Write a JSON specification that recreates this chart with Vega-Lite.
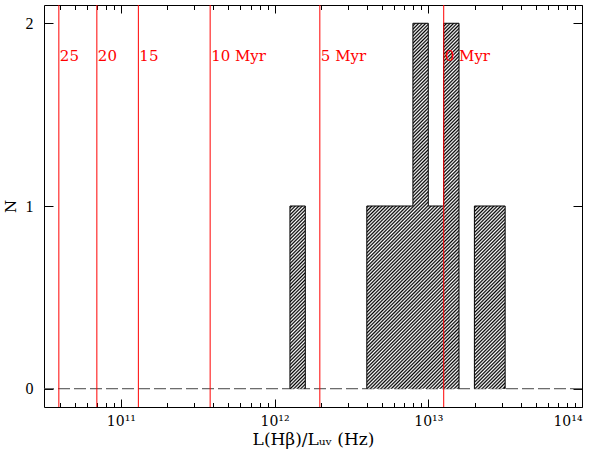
{
  "$schema": "https://vega.github.io/schema/vega-lite/v6.json",
  "width": 538,
  "height": 402,
  "autosize": "none",
  "padding": {"left": 44, "top": 5, "right": 18, "bottom": 45},
  "background": "white",
  "config": {
    "view": {"stroke": "black", "strokeWidth": 1},
    "axis": {"grid": false, "domain": false, "tickColor": "black", "tickWidth": 1, "labelColor": "black", "labelFont": "DejaVu Serif", "labelFontSize": 14, "titleFont": "DejaVu Serif", "titleFontSize": 17, "titleFontWeight": "normal", "titleColor": "black"}
  },
  "datasets": {
    "area": [
      {"x": 1.2589e12, "n": 1},
      {"x": 1.5849e12, "n": 0},
      {"x": 3.9811e12, "n": 1},
      {"x": 7.9433e12, "n": 2},
      {"x": 1e13, "n": 1},
      {"x": 1.2589e13, "n": 2},
      {"x": 1.5849e13, "n": 0},
      {"x": 1.9953e13, "n": 1},
      {"x": 3.1623e13, "n": 0}
    ],
    "outline": [
      {"x": 1.2589e12, "n": 0, "blk": "A", "i": 0},
      {"x": 1.2589e12, "n": 1, "blk": "A", "i": 1},
      {"x": 1.5849e12, "n": 0, "blk": "A", "i": 2},
      {"x": 3.9811e12, "n": 0, "blk": "B", "i": 0},
      {"x": 3.9811e12, "n": 1, "blk": "B", "i": 1},
      {"x": 7.9433e12, "n": 2, "blk": "B", "i": 2},
      {"x": 1e13, "n": 1, "blk": "B", "i": 3},
      {"x": 1.2589e13, "n": 2, "blk": "B", "i": 4},
      {"x": 1.5849e13, "n": 0, "blk": "B", "i": 5},
      {"x": 1.9953e13, "n": 0, "blk": "C", "i": 0},
      {"x": 1.9953e13, "n": 1, "blk": "C", "i": 1},
      {"x": 3.1623e13, "n": 0, "blk": "C", "i": 2}
    ],
    "ages": [
      {"age": "25", "x": 3.95e10},
      {"age": "20", "x": 6.98e10},
      {"age": "15", "x": 1.30e11},
      {"age": "10 Myr", "x": 3.81e11},
      {"age": "5 Myr", "x": 1.97e12},
      {"age": "0 Myr", "x": 1.26e13}
    ]
  },
  "resolve": {"axis": {"x": "independent", "y": "independent"}},
  "layer": [
    {
      "data": {"values": [{}]},
      "mark": {"type": "rule", "strokeDash": [12, 4], "color": "#444444", "strokeWidth": 1},
      "encoding": {
        "y": {"datum": 0, "scale": {"domain": [-0.1, 2.1], "nice": false, "zero": false}, "axis": null}
      }
    },
    {
      "data": {"name": "area"},
      "mark": {
        "type": "area",
        "interpolate": "step-after",
        "fill": {
          "gradient": "linear", "x1": 0, "y1": 0, "x2": 0.6947, "y2": 1.17975,
          "stops": [
            {"offset": 0, "color": "#000"}, {"offset": 0.003, "color": "#fff"},
            {"offset": 0.006, "color": "#000"}, {"offset": 0.009, "color": "#fff"},
            {"offset": 0.012, "color": "#000"}, {"offset": 0.015, "color": "#fff"},
            {"offset": 0.018, "color": "#000"}, {"offset": 0.021, "color": "#fff"},
            {"offset": 0.024, "color": "#000"}, {"offset": 0.027, "color": "#fff"},
            {"offset": 0.03, "color": "#000"}, {"offset": 0.033, "color": "#fff"},
            {"offset": 0.036, "color": "#000"}, {"offset": 0.039, "color": "#fff"},
            {"offset": 0.042, "color": "#000"}, {"offset": 0.045, "color": "#fff"},
            {"offset": 0.048, "color": "#000"}, {"offset": 0.051, "color": "#fff"},
            {"offset": 0.054, "color": "#000"}, {"offset": 0.057, "color": "#fff"},
            {"offset": 0.06, "color": "#000"}, {"offset": 0.063, "color": "#fff"},
            {"offset": 0.066, "color": "#000"}, {"offset": 0.069, "color": "#fff"},
            {"offset": 0.072, "color": "#000"}, {"offset": 0.075, "color": "#fff"},
            {"offset": 0.078, "color": "#000"}, {"offset": 0.081, "color": "#fff"},
            {"offset": 0.084, "color": "#000"}, {"offset": 0.087, "color": "#fff"},
            {"offset": 0.09, "color": "#000"}, {"offset": 0.093, "color": "#fff"},
            {"offset": 0.096, "color": "#000"}, {"offset": 0.099, "color": "#fff"},
            {"offset": 0.102, "color": "#000"}, {"offset": 0.105, "color": "#fff"},
            {"offset": 0.108, "color": "#000"}, {"offset": 0.111, "color": "#fff"},
            {"offset": 0.114, "color": "#000"}, {"offset": 0.117, "color": "#fff"},
            {"offset": 0.12, "color": "#000"}, {"offset": 0.123, "color": "#fff"},
            {"offset": 0.126, "color": "#000"}, {"offset": 0.129, "color": "#fff"},
            {"offset": 0.132, "color": "#000"}, {"offset": 0.135, "color": "#fff"},
            {"offset": 0.138, "color": "#000"}, {"offset": 0.141, "color": "#fff"},
            {"offset": 0.144, "color": "#000"}, {"offset": 0.147, "color": "#fff"},
            {"offset": 0.15, "color": "#000"}, {"offset": 0.153, "color": "#fff"},
            {"offset": 0.156, "color": "#000"}, {"offset": 0.159, "color": "#fff"},
            {"offset": 0.162, "color": "#000"}, {"offset": 0.165, "color": "#fff"},
            {"offset": 0.168, "color": "#000"}, {"offset": 0.171, "color": "#fff"},
            {"offset": 0.174, "color": "#000"}, {"offset": 0.177, "color": "#fff"},
            {"offset": 0.18, "color": "#000"}, {"offset": 0.183, "color": "#fff"},
            {"offset": 0.186, "color": "#000"}, {"offset": 0.189, "color": "#fff"},
            {"offset": 0.192, "color": "#000"}, {"offset": 0.195, "color": "#fff"},
            {"offset": 0.198, "color": "#000"}, {"offset": 0.201, "color": "#fff"},
            {"offset": 0.204, "color": "#000"}, {"offset": 0.207, "color": "#fff"},
            {"offset": 0.21, "color": "#000"}, {"offset": 0.213, "color": "#fff"},
            {"offset": 0.216, "color": "#000"}, {"offset": 0.219, "color": "#fff"},
            {"offset": 0.222, "color": "#000"}, {"offset": 0.225, "color": "#fff"},
            {"offset": 0.228, "color": "#000"}, {"offset": 0.231, "color": "#fff"},
            {"offset": 0.234, "color": "#000"}, {"offset": 0.237, "color": "#fff"},
            {"offset": 0.24, "color": "#000"}, {"offset": 0.243, "color": "#fff"},
            {"offset": 0.246, "color": "#000"}, {"offset": 0.249, "color": "#fff"},
            {"offset": 0.252, "color": "#000"}, {"offset": 0.255, "color": "#fff"},
            {"offset": 0.258, "color": "#000"}, {"offset": 0.261, "color": "#fff"},
            {"offset": 0.264, "color": "#000"}, {"offset": 0.267, "color": "#fff"},
            {"offset": 0.27, "color": "#000"}, {"offset": 0.273, "color": "#fff"},
            {"offset": 0.276, "color": "#000"}, {"offset": 0.279, "color": "#fff"},
            {"offset": 0.282, "color": "#000"}, {"offset": 0.285, "color": "#fff"},
            {"offset": 0.288, "color": "#000"}, {"offset": 0.291, "color": "#fff"},
            {"offset": 0.294, "color": "#000"}, {"offset": 0.297, "color": "#fff"},
            {"offset": 0.3, "color": "#000"}, {"offset": 0.303, "color": "#fff"},
            {"offset": 0.306, "color": "#000"}, {"offset": 0.309, "color": "#fff"},
            {"offset": 0.312, "color": "#000"}, {"offset": 0.315, "color": "#fff"},
            {"offset": 0.318, "color": "#000"}, {"offset": 0.321, "color": "#fff"},
            {"offset": 0.324, "color": "#000"}, {"offset": 0.327, "color": "#fff"},
            {"offset": 0.33, "color": "#000"}, {"offset": 0.333, "color": "#fff"},
            {"offset": 0.336, "color": "#000"}, {"offset": 0.339, "color": "#fff"},
            {"offset": 0.342, "color": "#000"}, {"offset": 0.345, "color": "#fff"},
            {"offset": 0.348, "color": "#000"}, {"offset": 0.351, "color": "#fff"},
            {"offset": 0.354, "color": "#000"}, {"offset": 0.357, "color": "#fff"},
            {"offset": 0.36, "color": "#000"}, {"offset": 0.363, "color": "#fff"},
            {"offset": 0.366, "color": "#000"}, {"offset": 0.369, "color": "#fff"},
            {"offset": 0.372, "color": "#000"}, {"offset": 0.375, "color": "#fff"},
            {"offset": 0.378, "color": "#000"}, {"offset": 0.381, "color": "#fff"},
            {"offset": 0.384, "color": "#000"}, {"offset": 0.387, "color": "#fff"},
            {"offset": 0.39, "color": "#000"}, {"offset": 0.393, "color": "#fff"},
            {"offset": 0.396, "color": "#000"}, {"offset": 0.399, "color": "#fff"},
            {"offset": 0.402, "color": "#000"}, {"offset": 0.405, "color": "#fff"},
            {"offset": 0.408, "color": "#000"}, {"offset": 0.411, "color": "#fff"},
            {"offset": 0.414, "color": "#000"}, {"offset": 0.417, "color": "#fff"},
            {"offset": 0.42, "color": "#000"}, {"offset": 0.423, "color": "#fff"},
            {"offset": 0.426, "color": "#000"}, {"offset": 0.429, "color": "#fff"},
            {"offset": 0.432, "color": "#000"}, {"offset": 0.435, "color": "#fff"},
            {"offset": 0.438, "color": "#000"}, {"offset": 0.441, "color": "#fff"},
            {"offset": 0.444, "color": "#000"}, {"offset": 0.447, "color": "#fff"},
            {"offset": 0.45, "color": "#000"}, {"offset": 0.453, "color": "#fff"},
            {"offset": 0.456, "color": "#000"}, {"offset": 0.459, "color": "#fff"},
            {"offset": 0.462, "color": "#000"}, {"offset": 0.465, "color": "#fff"},
            {"offset": 0.468, "color": "#000"}, {"offset": 0.471, "color": "#fff"},
            {"offset": 0.474, "color": "#000"}, {"offset": 0.477, "color": "#fff"},
            {"offset": 0.48, "color": "#000"}, {"offset": 0.483, "color": "#fff"},
            {"offset": 0.486, "color": "#000"}, {"offset": 0.489, "color": "#fff"},
            {"offset": 0.492, "color": "#000"}, {"offset": 0.495, "color": "#fff"},
            {"offset": 0.498, "color": "#000"}, {"offset": 0.501, "color": "#fff"},
            {"offset": 0.504, "color": "#000"}, {"offset": 0.507, "color": "#fff"},
            {"offset": 0.51, "color": "#000"}, {"offset": 0.513, "color": "#fff"},
            {"offset": 0.516, "color": "#000"}, {"offset": 0.519, "color": "#fff"},
            {"offset": 0.522, "color": "#000"}, {"offset": 0.525, "color": "#fff"},
            {"offset": 0.528, "color": "#000"}, {"offset": 0.531, "color": "#fff"},
            {"offset": 0.534, "color": "#000"}, {"offset": 0.537, "color": "#fff"},
            {"offset": 0.54, "color": "#000"}, {"offset": 0.543, "color": "#fff"},
            {"offset": 0.546, "color": "#000"}, {"offset": 0.549, "color": "#fff"},
            {"offset": 0.552, "color": "#000"}, {"offset": 0.555, "color": "#fff"},
            {"offset": 0.558, "color": "#000"}, {"offset": 0.561, "color": "#fff"},
            {"offset": 0.564, "color": "#000"}, {"offset": 0.567, "color": "#fff"},
            {"offset": 0.57, "color": "#000"}, {"offset": 0.573, "color": "#fff"},
            {"offset": 0.576, "color": "#000"}, {"offset": 0.579, "color": "#fff"},
            {"offset": 0.582, "color": "#000"}, {"offset": 0.585, "color": "#fff"},
            {"offset": 0.588, "color": "#000"}, {"offset": 0.591, "color": "#fff"},
            {"offset": 0.594, "color": "#000"}, {"offset": 0.597, "color": "#fff"},
            {"offset": 0.6, "color": "#000"}, {"offset": 0.603, "color": "#fff"},
            {"offset": 0.606, "color": "#000"}, {"offset": 0.609, "color": "#fff"},
            {"offset": 0.612, "color": "#000"}, {"offset": 0.615, "color": "#fff"},
            {"offset": 0.618, "color": "#000"}, {"offset": 0.621, "color": "#fff"},
            {"offset": 0.624, "color": "#000"}, {"offset": 0.627, "color": "#fff"},
            {"offset": 0.63, "color": "#000"}, {"offset": 0.633, "color": "#fff"},
            {"offset": 0.636, "color": "#000"}, {"offset": 0.639, "color": "#fff"},
            {"offset": 0.642, "color": "#000"}, {"offset": 0.645, "color": "#fff"},
            {"offset": 0.648, "color": "#000"}, {"offset": 0.651, "color": "#fff"},
            {"offset": 0.654, "color": "#000"}, {"offset": 0.657, "color": "#fff"},
            {"offset": 0.66, "color": "#000"}, {"offset": 0.663, "color": "#fff"},
            {"offset": 0.666, "color": "#000"}, {"offset": 0.669, "color": "#fff"},
            {"offset": 0.672, "color": "#000"}, {"offset": 0.675, "color": "#fff"},
            {"offset": 0.678, "color": "#000"}, {"offset": 0.681, "color": "#fff"},
            {"offset": 0.684, "color": "#000"}, {"offset": 0.687, "color": "#fff"},
            {"offset": 0.69, "color": "#000"}, {"offset": 0.693, "color": "#fff"},
            {"offset": 0.696, "color": "#000"}, {"offset": 0.699, "color": "#fff"},
            {"offset": 0.702, "color": "#000"}, {"offset": 0.705, "color": "#fff"},
            {"offset": 0.708, "color": "#000"}, {"offset": 0.711, "color": "#fff"},
            {"offset": 0.714, "color": "#000"}, {"offset": 0.717, "color": "#fff"},
            {"offset": 0.72, "color": "#000"}, {"offset": 0.723, "color": "#fff"},
            {"offset": 0.726, "color": "#000"}, {"offset": 0.729, "color": "#fff"},
            {"offset": 0.732, "color": "#000"}, {"offset": 0.735, "color": "#fff"},
            {"offset": 0.738, "color": "#000"}, {"offset": 0.741, "color": "#fff"},
            {"offset": 0.744, "color": "#000"}, {"offset": 0.747, "color": "#fff"},
            {"offset": 0.75, "color": "#000"}, {"offset": 0.753, "color": "#fff"},
            {"offset": 0.756, "color": "#000"}, {"offset": 0.759, "color": "#fff"},
            {"offset": 0.762, "color": "#000"}, {"offset": 0.765, "color": "#fff"},
            {"offset": 0.768, "color": "#000"}, {"offset": 0.771, "color": "#fff"},
            {"offset": 0.774, "color": "#000"}, {"offset": 0.777, "color": "#fff"},
            {"offset": 0.78, "color": "#000"}, {"offset": 0.783, "color": "#fff"},
            {"offset": 0.786, "color": "#000"}, {"offset": 0.789, "color": "#fff"},
            {"offset": 0.792, "color": "#000"}, {"offset": 0.795, "color": "#fff"},
            {"offset": 0.798, "color": "#000"}, {"offset": 0.801, "color": "#fff"},
            {"offset": 0.804, "color": "#000"}, {"offset": 0.807, "color": "#fff"},
            {"offset": 0.81, "color": "#000"}, {"offset": 0.813, "color": "#fff"},
            {"offset": 0.816, "color": "#000"}, {"offset": 0.819, "color": "#fff"},
            {"offset": 0.822, "color": "#000"}, {"offset": 0.825, "color": "#fff"},
            {"offset": 0.828, "color": "#000"}, {"offset": 0.831, "color": "#fff"},
            {"offset": 0.834, "color": "#000"}, {"offset": 0.837, "color": "#fff"},
            {"offset": 0.84, "color": "#000"}, {"offset": 0.843, "color": "#fff"},
            {"offset": 0.846, "color": "#000"}, {"offset": 0.849, "color": "#fff"},
            {"offset": 0.852, "color": "#000"}, {"offset": 0.855, "color": "#fff"},
            {"offset": 0.858, "color": "#000"}, {"offset": 0.861, "color": "#fff"},
            {"offset": 0.864, "color": "#000"}, {"offset": 0.867, "color": "#fff"},
            {"offset": 0.87, "color": "#000"}, {"offset": 0.873, "color": "#fff"},
            {"offset": 0.876, "color": "#000"}, {"offset": 0.879, "color": "#fff"},
            {"offset": 0.882, "color": "#000"}, {"offset": 0.885, "color": "#fff"},
            {"offset": 0.888, "color": "#000"}, {"offset": 0.891, "color": "#fff"},
            {"offset": 0.894, "color": "#000"}, {"offset": 0.897, "color": "#fff"},
            {"offset": 0.9, "color": "#000"}, {"offset": 0.903, "color": "#fff"},
            {"offset": 0.906, "color": "#000"}, {"offset": 0.909, "color": "#fff"},
            {"offset": 0.912, "color": "#000"}, {"offset": 0.915, "color": "#fff"},
            {"offset": 0.918, "color": "#000"}, {"offset": 0.921, "color": "#fff"},
            {"offset": 0.924, "color": "#000"}, {"offset": 0.927, "color": "#fff"},
            {"offset": 0.93, "color": "#000"}, {"offset": 0.933, "color": "#fff"},
            {"offset": 0.936, "color": "#000"}, {"offset": 0.939, "color": "#fff"},
            {"offset": 0.942, "color": "#000"}, {"offset": 0.945, "color": "#fff"},
            {"offset": 0.948, "color": "#000"}, {"offset": 0.951, "color": "#fff"},
            {"offset": 0.954, "color": "#000"}, {"offset": 0.957, "color": "#fff"},
            {"offset": 0.96, "color": "#000"}, {"offset": 0.963, "color": "#fff"},
            {"offset": 0.966, "color": "#000"}, {"offset": 0.969, "color": "#fff"},
            {"offset": 0.972, "color": "#000"}, {"offset": 0.975, "color": "#fff"},
            {"offset": 0.978, "color": "#000"}, {"offset": 0.981, "color": "#fff"},
            {"offset": 0.984, "color": "#000"}, {"offset": 0.987, "color": "#fff"},
            {"offset": 0.99, "color": "#000"}, {"offset": 0.993, "color": "#fff"},
            {"offset": 0.996, "color": "#000"}
          ]
        }
      },
      "encoding": {
        "x": {
          "field": "x", "type": "quantitative",
          "scale": {"type": "log", "domain": [3.1623e10, 1e14], "nice": false},
          "axis": {
            "orient": "bottom", "values": [1e11, 1e12, 1e13, 1e14], "tickSize": -8, "labelPadding": 15,
            "labelExpr": "datum.value < 3e11 ? '10¹¹' : datum.value < 3e12 ? '10¹²' : datum.value < 3e13 ? '10¹³' : '10¹⁴'",
            "title": "L(Hβ)/Lᵤᵥ (Hz)", "titlePadding": 3
          }
        },
        "y": {
          "field": "n", "type": "quantitative",
          "scale": {"domain": [-0.1, 2.1], "nice": false, "zero": false},
          "axis": {"orient": "left", "values": [0, 1, 2], "tickSize": -9, "labelPadding": 20, "labelFont": "Liberation Serif", "labelFontSize": 16, "title": "N", "titleFontSize": 15, "titlePadding": 7}
        },
        "y2": {"datum": 0}
      }
    },
    {
      "data": {"name": "outline"},
      "mark": {"type": "line", "interpolate": "step-after", "color": "black", "strokeWidth": 1},
      "encoding": {
        "x": {
          "field": "x", "type": "quantitative",
          "scale": {"type": "log", "domain": [3.1623e10, 1e14], "nice": false},
          "axis": {"orient": "top", "values": [1e11, 1e12, 1e13, 1e14], "tickSize": -8, "labels": false, "title": null}
        },
        "y": {
          "field": "n", "type": "quantitative",
          "scale": {"domain": [-0.1, 2.1], "nice": false, "zero": false},
          "axis": {"orient": "right", "values": [0, 1, 2], "tickSize": -9, "labels": false, "title": null}
        },
        "detail": {"field": "blk", "type": "nominal"},
        "order": {"field": "i", "type": "quantitative"}
      }
    },
    {
      "data": {"name": "ages"},
      "mark": {"type": "rule", "color": "red", "strokeWidth": 1},
      "encoding": {
        "x": {
          "field": "x", "type": "quantitative",
          "scale": {"type": "log", "domain": [3.1623e10, 1e14], "nice": false},
          "axis": {
            "orient": "bottom", "tickSize": -4.5, "labels": false, "title": null,
            "values": [4e10, 5e10, 6e10, 7e10, 8e10, 9e10, 2e11, 3e11, 4e11, 5e11, 6e11, 7e11, 8e11, 9e11, 2e12, 3e12, 4e12, 5e12, 6e12, 7e12, 8e12, 9e12, 2e13, 3e13, 4e13, 5e13, 6e13, 7e13, 8e13, 9e13]
          }
        }
      }
    },
    {
      "data": {"name": "ages"},
      "mark": {"type": "text", "align": "left", "baseline": "alphabetic", "dx": 1, "color": "red", "font": "DejaVu Serif", "fontSize": 15},
      "encoding": {
        "x": {
          "field": "x", "type": "quantitative",
          "scale": {"type": "log", "domain": [3.1623e10, 1e14], "nice": false},
          "axis": {
            "orient": "top", "tickSize": -4.5, "labels": false, "title": null,
            "values": [4e10, 5e10, 6e10, 7e10, 8e10, 9e10, 2e11, 3e11, 4e11, 5e11, 6e11, 7e11, 8e11, 9e11, 2e12, 3e12, 4e12, 5e12, 6e12, 7e12, 8e12, 9e12, 2e13, 3e13, 4e13, 5e13, 6e13, 7e13, 8e13, 9e13]
          }
        },
        "y": {"datum": 1.795, "scale": {"domain": [-0.1, 2.1], "nice": false, "zero": false}, "axis": null},
        "text": {"field": "age", "type": "nominal"}
      }
    }
  ]
}
